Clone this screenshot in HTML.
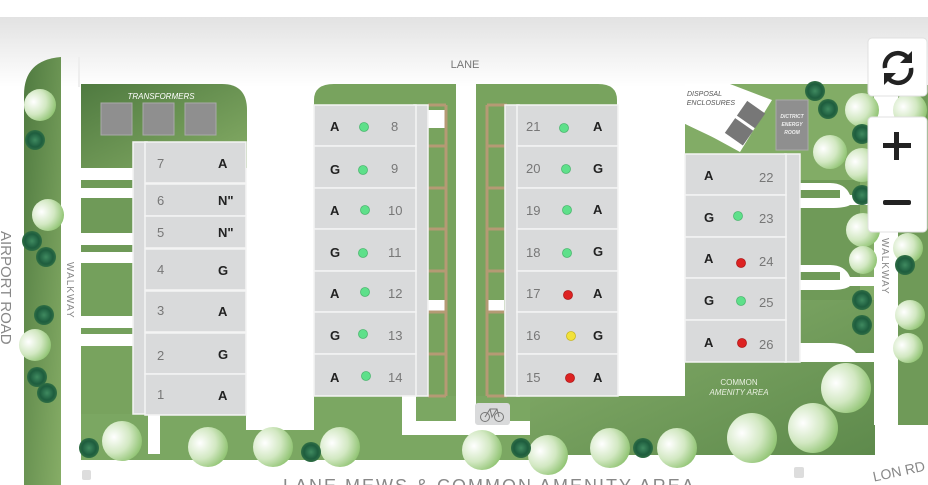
<!DOCTYPE html><html><head><meta charset="utf-8"><style>
body{margin:0;width:928px;height:485px;overflow:hidden;background:#fff;font-family:"Liberation Sans",sans-serif}
svg{display:block}
.t{font-family:"Liberation Sans",sans-serif}
</style></head><body>
<svg width="928" height="485" viewBox="0 0 928 485" xmlns="http://www.w3.org/2000/svg">
<defs>
<linearGradient id="bg" x1="0" y1="0" x2="0" y2="1"><stop offset="0" stop-color="#e2e2e2"/><stop offset="1" stop-color="#ffffff"/></linearGradient>
<linearGradient id="g1" x1="0" y1="0" x2="1" y2="1"><stop offset="0" stop-color="#4f7a40"/><stop offset="1" stop-color="#86ad66"/></linearGradient>
<linearGradient id="g2" x1="0" y1="0" x2="1" y2="1"><stop offset="0" stop-color="#88b06c"/><stop offset="1" stop-color="#5e8a4c"/></linearGradient>
<radialGradient id="tr" cx="0.3" cy="0.4" r="0.8"><stop offset="0" stop-color="#ffffff"/><stop offset="0.5" stop-color="#d2e8c2"/><stop offset="1" stop-color="#7fba5e"/></radialGradient>
<radialGradient id="sh" cx="0.5" cy="0.5" r="0.5"><stop offset="0" stop-color="#3f8a60"/><stop offset="0.7" stop-color="#1e5d3e"/><stop offset="1" stop-color="#2f6e44"/></radialGradient>
</defs>
<rect x="0" y="17" width="928" height="70" fill="url(#bg)"/>
<path d="M24 485 V95 Q24 60 61 57 V485 Z" fill="url(#g1)"/>
<rect x="78" y="57" width="2" height="30" fill="#eee"/>
<path d="M81 84 H222 Q247 84 247 110 V168 H81 Z" fill="url(#g1)"/>
<rect x="81" y="180" width="52" height="8" fill="#6f9a58"/>
<rect x="81" y="198" width="52" height="35" fill="#6f9a58"/>
<rect x="81" y="245" width="52" height="7" fill="#6f9a58"/>
<rect x="81" y="263" width="52" height="53" fill="#74a05c"/>
<rect x="81" y="328" width="52" height="6" fill="#74a05c"/>
<rect x="81" y="346" width="52" height="114" fill="#78a35e"/>
<rect x="81" y="414" width="165" height="46" fill="#7ba762"/>
<rect x="148" y="414" width="12" height="40" fill="#fff"/>
<rect x="246" y="430" width="70" height="30" fill="#7ba762"/>
<text x="161" y="99" font-size="8" font-style="italic" fill="#fff" text-anchor="middle">TRANSFORMERS</text>
<rect x="101" y="103" width="31" height="32" fill="#8f8f8f" stroke="#aaa"/>
<rect x="143" y="103" width="31" height="32" fill="#8f8f8f" stroke="#aaa"/>
<rect x="185" y="103" width="31" height="32" fill="#8f8f8f" stroke="#aaa"/>
<path d="M314 105 V100 Q314 84 334 84 H456 V105 Z" fill="#78a35e"/>
<path d="M476 84 H598 Q617 84 617 100 V105 H476 Z" fill="#78a35e"/>
<rect x="416" y="105" width="40" height="291" fill="#78a35e"/>
<rect x="476" y="105" width="41" height="291" fill="#78a35e"/>
<g fill="#fff"><rect x="428" y="110" width="18" height="18"/><rect x="428" y="300" width="18" height="12"/><rect x="486" y="300" width="18" height="12"/></g>
<rect x="314" y="396" width="88" height="64" fill="#7ba762"/>
<rect x="416" y="396" width="40" height="25" fill="#7ba762"/>
<rect x="476" y="396" width="54" height="25" fill="#7ba762"/>
<path d="M530 396 H685 V362 H800 V300 H875 V455 H530 Z" fill="url(#g2)"/>
<rect x="402" y="435" width="128" height="25" fill="#7ba762"/>
<path d="M685 84 H875 V300 H800 V154 H685 V124 L740 150 L770 100 L685 84Z" fill="#82ac66"/>
<path d="M685 124 V154 H745 Z" fill="#82ac66"/>
<path d="M685 84 V122 L740 152 L772 100 L730 84 Z" fill="#fff"/>
<path d="M800 180 H860 V300 H800Z" fill="#6f9a58"/>
<g fill="#fff"><path d="M800 183 H830 Q845 183 850 195 H875 V205 H850 Q845 208 830 208 H800Z"/><path d="M800 265 H830 Q845 265 850 277 H875 V286 H850 Q845 290 830 290 H800Z"/><path d="M800 343 H830 Q848 343 856 353 H875 V362 H800Z"/></g>
<rect x="800" y="190" width="40" height="8" fill="#6f9a58"/>
<rect x="800" y="272" width="40" height="8" fill="#6f9a58"/>
<path d="M898 85 H928 V425 L898 425 Z" fill="#6f9a58"/>
<rect x="874" y="85" width="24" height="340" fill="#fff"/>
<text x="722" y="96" font-size="7" font-style="italic" fill="#555" text-anchor="end">DISPOSAL</text>
<text x="735" y="105" font-size="7" font-style="italic" fill="#555" text-anchor="end">ENCLOSURES</text>
<g transform="rotate(35 745 125)"><rect x="733" y="104" width="22" height="18" fill="#777"/><rect x="733" y="125" width="22" height="18" fill="#777"/></g>
<rect x="776" y="100" width="32" height="50" fill="#8f8f8f" stroke="#aaa"/>
<text x="792" y="118" font-size="5" font-weight="bold" font-style="italic" fill="#eee" text-anchor="middle">DICTRICT</text>
<text x="792" y="126" font-size="5" font-weight="bold" font-style="italic" fill="#eee" text-anchor="middle">ENERGY</text>
<text x="792" y="134" font-size="5" font-weight="bold" font-style="italic" fill="#eee" text-anchor="middle">ROOM</text>
<text x="739" y="385" font-size="8" fill="#e8f0e0" text-anchor="middle">COMMON</text>
<text x="739" y="395" font-size="8" font-style="italic" fill="#e8f0e0" text-anchor="middle">AMENITY AREA</text>
<g stroke="#b59a74" stroke-width="3" fill="none">
<path d="M446 105 V396"/><path d="M487 105 V396"/>
<path d="M428 105 H446 M428 146 H446 M428 188 H446 M428 229 H446 M428 271 H446 M428 312 H446 M428 354 H446 M428 396 H446"/>
<path d="M487 105 H507 M487 146 H507 M487 188 H507 M487 229 H507 M487 271 H507 M487 312 H507 M487 354 H507 M487 396 H507"/>
</g>
<g fill="#d9dadb" stroke="#f4f4f4" stroke-width="1.5">
<rect x="133" y="142" width="14" height="272"/>
<rect x="145" y="142" width="101" height="41"/><rect x="145" y="184" width="101" height="32"/><rect x="145" y="216" width="101" height="32"/>
<rect x="145" y="249" width="101" height="41"/><rect x="145" y="291" width="101" height="41"/><rect x="145" y="333" width="101" height="41"/><rect x="145" y="374" width="101" height="41"/>
<rect x="414" y="105" width="14" height="291"/>
<rect x="314" y="105" width="102" height="41"/><rect x="314" y="146" width="102" height="42"/><rect x="314" y="188" width="102" height="41"/><rect x="314" y="229" width="102" height="42"/><rect x="314" y="271" width="102" height="41"/><rect x="314" y="312" width="102" height="42"/><rect x="314" y="354" width="102" height="42"/>
<rect x="505" y="105" width="14" height="291"/>
<rect x="517" y="105" width="101" height="41"/><rect x="517" y="146" width="101" height="42"/><rect x="517" y="188" width="101" height="41"/><rect x="517" y="229" width="101" height="42"/><rect x="517" y="271" width="101" height="41"/><rect x="517" y="312" width="101" height="42"/><rect x="517" y="354" width="101" height="42"/>
<rect x="785" y="154" width="15" height="208"/>
<rect x="685" y="154" width="101" height="41"/><rect x="685" y="195" width="101" height="42"/><rect x="685" y="237" width="101" height="41"/><rect x="685" y="278" width="101" height="42"/><rect x="685" y="320" width="101" height="42"/>
</g>
<g font-size="13" fill="#777" class="t">
<text x="157" y="168">7</text><text x="157" y="205">6</text><text x="157" y="237">5</text><text x="157" y="274">4</text><text x="157" y="315">3</text><text x="157" y="360">2</text><text x="157" y="399">1</text>
<text x="391" y="131">8</text><text x="391" y="173">9</text><text x="388" y="215">10</text><text x="388" y="257">11</text><text x="388" y="298">12</text><text x="388" y="340">13</text><text x="388" y="382">14</text>
<text x="526" y="131">21</text><text x="526" y="173">20</text><text x="526" y="215">19</text><text x="526" y="257">18</text><text x="526" y="298">17</text><text x="526" y="340">16</text><text x="526" y="382">15</text>
<text x="759" y="182">22</text><text x="759" y="223">23</text><text x="759" y="266">24</text><text x="759" y="307">25</text><text x="759" y="349">26</text>
</g>
<g font-size="13" font-weight="bold" fill="#222" class="t">
<text x="218" y="168">A</text><text x="218" y="205">N"</text><text x="218" y="237">N"</text><text x="218" y="275">G</text><text x="218" y="316">A</text><text x="218" y="359">G</text><text x="218" y="400">A</text>
<text x="330" y="131">A</text><text x="330" y="174">G</text><text x="330" y="215">A</text><text x="330" y="257">G</text><text x="330" y="298">A</text><text x="330" y="340">G</text><text x="330" y="382">A</text>
<text x="593" y="131">A</text><text x="593" y="173">G</text><text x="593" y="214">A</text><text x="593" y="256">G</text><text x="593" y="298">A</text><text x="593" y="340">G</text><text x="593" y="382">A</text>
<text x="704" y="180">A</text><text x="704" y="222">G</text><text x="704" y="263">A</text><text x="704" y="305">G</text><text x="704" y="347">A</text>
</g>
<g stroke-width="0.8">
<g fill="#5ee08a" stroke="#4cb870"><circle cx="364" cy="127" r="4.5"/><circle cx="363" cy="170" r="4.5"/><circle cx="365" cy="210" r="4.5"/><circle cx="363" cy="253" r="4.5"/><circle cx="365" cy="292" r="4.5"/><circle cx="363" cy="334" r="4.5"/><circle cx="366" cy="376" r="4.5"/>
<circle cx="564" cy="128" r="4.5"/><circle cx="566" cy="169" r="4.5"/><circle cx="567" cy="210" r="4.5"/><circle cx="567" cy="253" r="4.5"/><circle cx="738" cy="216" r="4.5"/><circle cx="741" cy="301" r="4.5"/></g>
<g fill="#dd2222" stroke="#b01818"><circle cx="568" cy="295" r="4.5"/><circle cx="570" cy="378" r="4.5"/><circle cx="741" cy="263" r="4.5"/><circle cx="742" cy="343" r="4.5"/></g>
<circle cx="571" cy="336" r="4.5" fill="#f2e23a" stroke="#c9b820"/>
</g>
<rect x="475" y="403" width="35" height="22" rx="3" fill="#d9dadb"/>
<g stroke="#777" fill="none" stroke-width="1"><circle cx="485" cy="417" r="4.5"/><circle cx="499" cy="417" r="4.5"/><path d="M485 417 L490 409 L497 409 L499 417 M490 409 L492 417 L497 409"/></g>
<text x="465" y="68" font-size="11" fill="#777" text-anchor="middle">LANE</text>
<text transform="translate(1,231) rotate(90)" font-size="15" fill="#888">AIRPORT ROAD</text>
<text transform="translate(67,262) rotate(90)" font-size="10" fill="#888" letter-spacing="1">WALKWAY</text>
<text transform="translate(882,238) rotate(90)" font-size="10" fill="#888" letter-spacing="1">WALKWAY</text>
<text x="283" y="492" font-size="18" fill="#888" letter-spacing="2">LANE MEWS &amp; COMMON AMENITY AREA</text>
<text x="872" y="478" font-size="14" fill="#888" transform="rotate(-12 890 470)">LON RD</text>
<rect x="82" y="470" width="9" height="10" rx="2" fill="#ddd"/><rect x="794" y="467" width="10" height="11" rx="2" fill="#ddd"/>
<g fill="url(#tr)">
<circle cx="40" cy="105" r="16"/><circle cx="48" cy="215" r="16"/><circle cx="35" cy="345" r="16"/>
<circle cx="122" cy="441" r="20"/><circle cx="208" cy="447" r="20"/><circle cx="273" cy="447" r="20"/><circle cx="340" cy="447" r="20"/>
<circle cx="482" cy="450" r="20"/><circle cx="548" cy="455" r="20"/><circle cx="610" cy="448" r="20"/><circle cx="677" cy="448" r="20"/>
<circle cx="752" cy="438" r="25"/><circle cx="813" cy="428" r="25"/><circle cx="846" cy="388" r="25"/>
<circle cx="830" cy="152" r="17"/><circle cx="862" cy="110" r="17"/><circle cx="862" cy="165" r="17"/><circle cx="863" cy="230" r="17"/><circle cx="863" cy="260" r="14"/>
<circle cx="910" cy="110" r="17"/><circle cx="908" cy="248" r="15"/><circle cx="910" cy="315" r="15"/><circle cx="908" cy="348" r="15"/>
</g>
<g fill="url(#sh)">
<circle cx="35" cy="140" r="10"/><circle cx="32" cy="241" r="10"/><circle cx="46" cy="257" r="10"/><circle cx="44" cy="315" r="10"/><circle cx="37" cy="377" r="10"/><circle cx="47" cy="393" r="10"/>
<circle cx="89" cy="448" r="10"/><circle cx="311" cy="452" r="10"/><circle cx="521" cy="448" r="10"/><circle cx="643" cy="448" r="10"/>
<circle cx="815" cy="91" r="10"/><circle cx="828" cy="109" r="10"/><circle cx="862" cy="134" r="10"/><circle cx="862" cy="195" r="10"/><circle cx="862" cy="300" r="10"/><circle cx="862" cy="325" r="10"/><circle cx="905" cy="265" r="10"/>
</g>
<rect x="868" y="38" width="59" height="58" rx="4" fill="#fff" stroke="#e0e0e0"/>
<g stroke="#222" stroke-width="4.5" fill="none"><path d="M885 68 A13 13 0 0 1 908 58"/><path d="M911 68 A13 13 0 0 1 888 78"/></g>
<path d="M912 51 V63 H900Z" fill="#222"/><path d="M884 85 V73 H896Z" fill="#222"/>
<rect x="868" y="117" width="59" height="115" rx="4" fill="#fff" stroke="#e0e0e0"/>
<rect x="883" y="143" width="28" height="5" fill="#222"/><rect x="894" y="132" width="5" height="28" fill="#222"/>
<rect x="883" y="200" width="28" height="5" rx="2" fill="#222"/>
</svg>
</body></html>
